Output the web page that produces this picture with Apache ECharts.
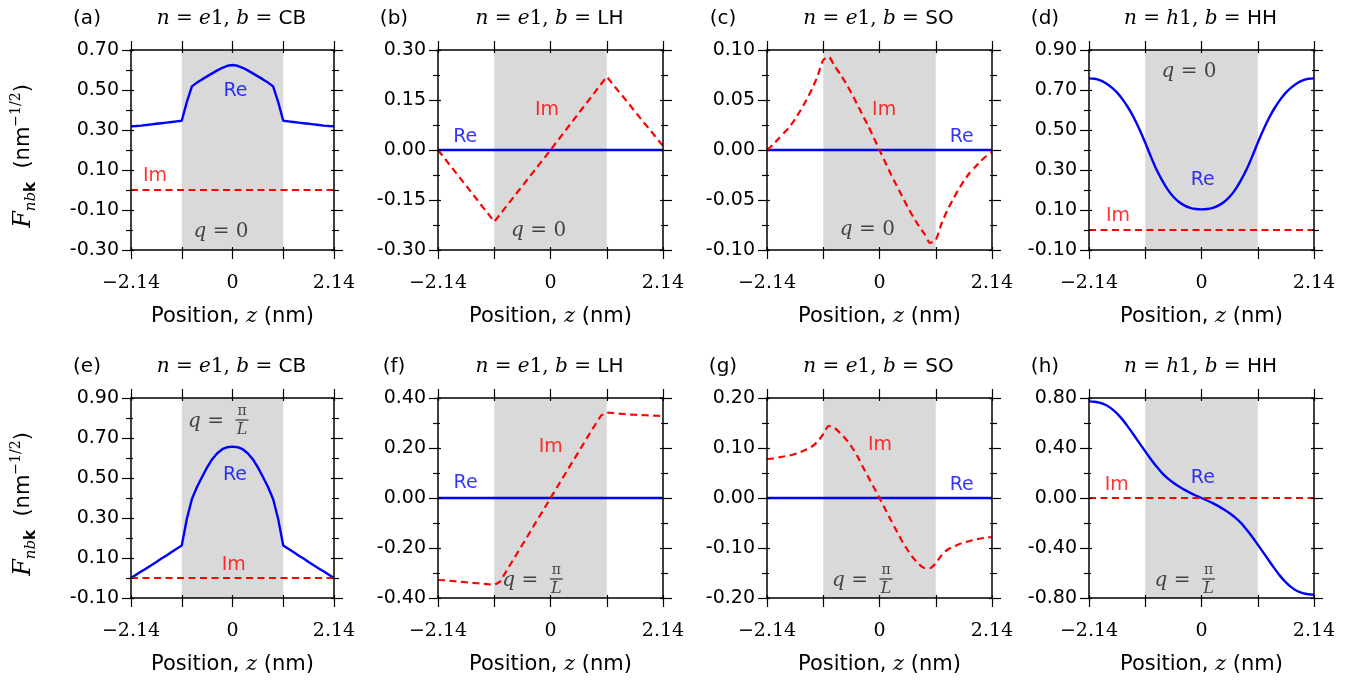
<!DOCTYPE html>
<html><head><meta charset="utf-8">
<script src="https://cdn.jsdelivr.net/npm/echarts@6/dist/echarts.min.js"></script>
<style>html,body{margin:0;padding:0;background:#fff}#c{width:1360px;height:681px}</style>
</head><body><div id="c"></div><script>
// ---------- data ----------
const z = [-2.14,-2.033,-1.926,-1.819,-1.712,-1.605,-1.498,-1.391,-1.284,-1.177,-1.07,-0.963,-0.856,-0.749,-0.642,-0.535,-0.428,-0.321,-0.214,-0.107,0,0.107,0.214,0.321,0.428,0.535,0.642,0.749,0.856,0.963,1.07,1.177,1.284,1.391,1.498,1.605,1.712,1.819,1.926,2.033,2.14];
const zEnds = [-2.14, 2.14];
const zeroVals = [0, 0];
const wellEdges = [-1.07, 1.07];
// (a) e1, CB, q=0 : Re
const reA = [0.319,0.320,0.322,0.325,0.328,0.331,0.334,0.337,0.340,0.343,0.346,0.440,0.518,0.537,0.553,0.568,0.583,0.598,0.611,0.621,0.625,0.621,0.611,0.598,0.583,0.568,0.553,0.537,0.518,0.440,0.346,0.343,0.340,0.337,0.334,0.331,0.328,0.325,0.322,0.320,0.319];
// (b) e1, LH, q=0 : Im
const imB = [0.000,-0.021,-0.043,-0.064,-0.086,-0.107,-0.129,-0.150,-0.172,-0.193,-0.215,-0.194,-0.172,-0.151,-0.129,-0.108,-0.086,-0.065,-0.043,-0.022,0.000,0.022,0.044,0.066,0.088,0.110,0.132,0.154,0.176,0.198,0.220,0.199,0.178,0.158,0.137,0.116,0.095,0.074,0.054,0.033,0.012];
// (c) e1, SO, q=0 : Im
const imC = [0.000,0.005,0.011,0.017,0.023,0.031,0.040,0.050,0.061,0.074,0.090,0.093,0.084,0.076,0.067,0.057,0.046,0.035,0.024,0.012,0.000,-0.012,-0.024,-0.035,-0.046,-0.057,-0.067,-0.076,-0.084,-0.093,-0.090,-0.074,-0.061,-0.050,-0.040,-0.031,-0.023,-0.017,-0.011,-0.006,-0.002];
// (d) h1, HH, q=0 : Re
const reD = [0.758,0.756,0.748,0.734,0.713,0.687,0.652,0.610,0.560,0.501,0.436,0.367,0.302,0.248,0.202,0.166,0.140,0.122,0.111,0.105,0.103,0.105,0.111,0.122,0.140,0.166,0.202,0.248,0.302,0.367,0.436,0.501,0.560,0.610,0.652,0.687,0.713,0.734,0.748,0.756,0.758];
// (e) e1, CB, q=pi/L : Re
const reE = [0.000,0.016,0.032,0.048,0.064,0.080,0.097,0.113,0.130,0.146,0.162,0.295,0.395,0.455,0.505,0.553,0.594,0.624,0.644,0.654,0.657,0.654,0.644,0.624,0.594,0.553,0.505,0.455,0.395,0.295,0.162,0.146,0.130,0.113,0.097,0.080,0.064,0.048,0.032,0.016,0.000];
// (f) e1, LH, q=pi/L : Im
const imF = [-0.328,-0.329,-0.331,-0.333,-0.335,-0.337,-0.339,-0.341,-0.343,-0.345,-0.348,-0.335,-0.298,-0.261,-0.224,-0.187,-0.150,-0.112,-0.075,-0.038,0.000,0.037,0.074,0.111,0.148,0.185,0.222,0.259,0.295,0.330,0.342,0.340,0.338,0.336,0.334,0.333,0.332,0.331,0.330,0.329,0.328];
// (g) e1, SO, q=pi/L : Im
const imG = [0.078,0.079,0.081,0.083,0.085,0.088,0.092,0.097,0.103,0.113,0.128,0.144,0.140,0.130,0.118,0.103,0.085,0.063,0.042,0.021,0.000,-0.022,-0.044,-0.065,-0.086,-0.104,-0.120,-0.132,-0.140,-0.140,-0.130,-0.115,-0.104,-0.098,-0.093,-0.089,-0.086,-0.083,-0.081,-0.079,-0.078];
// (h) h1, HH, q=pi/L : Re
const reH = [0.773,0.770,0.761,0.744,0.715,0.675,0.625,0.565,0.502,0.437,0.373,0.310,0.252,0.199,0.157,0.122,0.092,0.065,0.041,0.020,0.000,-0.020,-0.041,-0.065,-0.092,-0.122,-0.157,-0.199,-0.252,-0.310,-0.373,-0.437,-0.502,-0.565,-0.625,-0.675,-0.715,-0.744,-0.761,-0.770,-0.773];

const panelLetters = ['(a)','(b)','(c)','(d)','(e)','(f)','(g)','(h)'];
const stateLetter = ['e','e','e','h','e','e','e','h'];
const bandNames = ['CB','LH','SO','HH','CB','LH','SO','HH'];
const yMin = [-0.30,-0.30,-0.10,-0.10,-0.10,-0.40,-0.20,-0.80];
const yMax = [0.70,0.30,0.10,0.90,0.90,0.40,0.20,0.80];
const yStep = [0.20,0.15,0.05,0.20,0.20,0.20,0.10,0.40];
const xMin = -2.14, xMax = 2.14, xStep = 1.07;
const xTickValues = [-2.14, 0, 2.14];
const xTickText = ['\u22122.14', '0', '2.14'];
const panelRe = [reA, null, null, reD, reE, null, null, reH];
const panelIm = [null, imB, imC, null, null, imF, imG, null];

// annotation anchors in data coordinates
const notes = [
  [['Re',0.063,0.496],['Im',-1.633,0.068],['q0',-0.243,-0.211]],
  [['Re',-1.621,0.039],['Im',-0.067,0.120],['q0',-0.226,-0.241]],
  [['Im',0.089,0.040],['Re',1.563,0.013],['q0',-0.231,-0.080]],
  [['q0',-0.237,0.791],['Re',0.022,0.248],['Im',-1.588,0.068]],
  [['qpi',-0.264,0.785],['Re',0.053,0.515],['Im',0.027,0.065]],
  [['Re',-1.615,0.059],['Im',0.006,0.205],['qpi',-0.308,-0.328]],
  [['Im',0.010,0.106],['Re',1.564,0.026],['qpi',-0.295,-0.164]],
  [['Re',0.025,0.157],['Im',-1.613,0.104],['qpi',-0.285,-0.656]]
];

// ---------- layout & style ----------
const colLeft = [131, 438, 767, 1089];
const colWidth = [203, 225, 225, 225];
const rowTop = [50, 398];
const plotH = 200;
const smoothing = [0, 0, 0.2, 0.3, 0, 0, 0.3, 0.3];
const BLUE = '#0000ff', RED = '#ff0000', INK = '#1a1a1a';
const SERIF = 'DejaVu Serif', SANS = 'DejaVu Sans';

const pairs = (xs, ys) => xs.map((x, i) => [x, ys[i]]);
const xFmt = v => {
  for (let i = 0; i < xTickValues.length; i++) if (Math.abs(v - xTickValues[i]) < 1e-6) return xTickText[i];
  return '';
};
const yFmt = v => (Math.abs(v) < 1e-9 ? 0 : v).toFixed(2);

const noteRich = {
  re: {color: BLUE, fontFamily: SANS, fontSize: 19},
  im: {color: RED, fontFamily: SANS, fontSize: 19},
  qi: {color: INK, fontFamily: SERIF, fontStyle: 'italic', fontSize: 20},
  qr: {color: INK, fontFamily: SERIF, fontSize: 20},
  n: {color: INK, fontFamily: SERIF, fontSize: 14, lineHeight: 14, align: 'center'},
  bar: {width: 13, height: 1.3, backgroundColor: INK, lineHeight: 4, align: 'center', fontSize: 4},
  d: {color: INK, fontFamily: SERIF, fontStyle: 'italic', fontSize: 16, lineHeight: 16, align: 'center'}
};

const lineStyleAxis = {color: '#000', width: 1.5};
const tickStyle = {color: '#000', width: 1.2};

const option = {
  animation: false, backgroundColor: '#fff',
  textStyle: {fontFamily: SANS},
  grid: [], xAxis: [], yAxis: [], series: [], graphic: []
};

for (let p = 0; p < 8; p++) {
  const r = Math.floor(p / 4), c = p % 4;
  const left = colLeft[c], width = colWidth[c], top = rowTop[r];
  option.grid.push({left: left, top: top, width: width, height: plotH, containLabel: false});
  const xi = option.xAxis.length, yi = option.yAxis.length;
  const xb = {gridIndex: p, type: 'value', min: xMin, max: xMax, interval: xStep, splitLine: {show: false}, z: 10};
  option.xAxis.push(Object.assign({}, xb, {
    position: 'bottom',
    axisLine: {show: true, onZero: false, lineStyle: lineStyleAxis},
    axisTick: {show: true, length: 9, lineStyle: tickStyle},
    axisLabel: {show: true, formatter: xFmt, fontFamily: SERIF, fontSize: 19, color: '#000', margin: 24},
    name: '{s|Position, }{z|z}{s| (nm)}', nameLocation: 'middle', nameGap: 56,
    nameTextStyle: {rich: {s: {fontFamily: SANS, fontSize: 21, color: '#000'}, z: {fontFamily: SERIF, fontStyle: 'italic', fontSize: 21, color: '#000'}}}
  }));
  option.xAxis.push(Object.assign({}, xb, {
    position: 'top',
    axisLine: {show: true, onZero: false, lineStyle: lineStyleAxis},
    axisTick: {show: true, length: 9, lineStyle: tickStyle},
    axisLabel: {show: false}
  }));
  option.xAxis.push(Object.assign({}, xb, {position: 'bottom', axisLine: {show: false, onZero: false}, axisTick: {show: true, inside: true, length: 3, lineStyle: tickStyle}, axisLabel: {show: false}}));
  option.xAxis.push(Object.assign({}, xb, {position: 'top', axisLine: {show: false, onZero: false}, axisTick: {show: true, inside: true, length: 3, lineStyle: tickStyle}, axisLabel: {show: false}}));

  const yb = {gridIndex: p, type: 'value', min: yMin[p], max: yMax[p], interval: yStep[p], splitLine: {show: false}, minorSplitLine: {show: false}, z: 10};
  option.yAxis.push(Object.assign({}, yb, {
    position: 'left',
    axisLine: {show: true, onZero: false, lineStyle: lineStyleAxis},
    axisTick: {show: true, length: 9, lineStyle: tickStyle},
    minorTick: {show: true, splitNumber: 2, length: 5, lineStyle: tickStyle},
    axisLabel: {show: true, formatter: yFmt, fontFamily: SANS, fontSize: 19, color: '#000', margin: 12}
  }));
  option.yAxis.push(Object.assign({}, yb, {
    position: 'right',
    axisLine: {show: true, onZero: false, lineStyle: lineStyleAxis},
    axisTick: {show: true, length: 9, lineStyle: tickStyle},
    minorTick: {show: true, splitNumber: 2, length: 5, lineStyle: tickStyle},
    axisLabel: {show: false}
  }));
  option.yAxis.push(Object.assign({}, yb, {position: 'left', axisLine: {show: false, onZero: false}, axisTick: {show: true, inside: true, length: 3, lineStyle: tickStyle}, minorTick: {show: true, splitNumber: 2, length: 2, lineStyle: tickStyle}, axisLabel: {show: false}}));
  option.yAxis.push(Object.assign({}, yb, {position: 'right', axisLine: {show: false, onZero: false}, axisTick: {show: true, inside: true, length: 3, lineStyle: tickStyle}, minorTick: {show: true, splitNumber: 2, length: 2, lineStyle: tickStyle}, axisLabel: {show: false}}));

  // shaded well
  option.series.push({type: 'line', xAxisIndex: xi, yAxisIndex: yi, data: [], z: 1, silent: true,
    markArea: {silent: true, itemStyle: {color: '#d9d9d9'}, data: [[{xAxis: wellEdges[0]}, {xAxis: wellEdges[1]}]]}});
  // Re (solid blue)
  option.series.push({type: 'line', xAxisIndex: xi, yAxisIndex: yi, z: 3, silent: true, showSymbol: false,
    smooth: panelRe[p] ? smoothing[p] : false,
    data: panelRe[p] ? pairs(z, panelRe[p]) : pairs(zEnds, zeroVals),
    lineStyle: {color: BLUE, width: 2.4}});
  // Im (dashed red)
  option.series.push({type: 'line', xAxisIndex: xi, yAxisIndex: yi, z: 4, silent: true, showSymbol: false,
    smooth: panelIm[p] ? smoothing[p] : false,
    data: panelIm[p] ? pairs(z, panelIm[p]) : pairs(zEnds, zeroVals),
    lineStyle: {color: RED, width: 2.2, type: [7, 4.5]}});
  // annotations
  const items = [];
  notes[p].forEach(n => {
    const kind = n[0], v = [n[1], n[2]];
    if (kind === 'Re') items.push({value: v, label: {formatter: '{re|Re}'}});
    else if (kind === 'Im') items.push({value: v, label: {formatter: '{im|Im}'}});
    else if (kind === 'q0') items.push({value: v, label: {formatter: '{qi|q}{qr| = 0}'}});
    else {
      items.push({value: v, label: {formatter: '{qi|q}{qr| =}', offset: [-14, 1]}});
      items.push({value: v, label: {formatter: '{n|\u03c0}\n{bar| }\n{d|L}', offset: [22, 0]}});
    }
  });
  option.series.push({type: 'scatter', xAxisIndex: xi, yAxisIndex: yi, z: 5, silent: true,
    symbolSize: 1, itemStyle: {color: 'rgba(0,0,0,0)'},
    label: {show: true, position: 'inside', align: 'center', verticalAlign: 'middle', rich: noteRich},
    data: items});

  // titles
  option.graphic.push({type: 'text', x: left - 44, y: top - 31, silent: true,
    style: {text: panelLetters[p], fontFamily: SANS, fontSize: 20, fill: '#000', align: 'center', verticalAlign: 'middle', textAlign: 'center', textVerticalAlign: 'middle'}});
  option.graphic.push({type: 'text', x: left + width / 2 - 1, y: top - 31, silent: true,
    style: {text: '{i|n}{r| = }{i|' + stateLetter[p] + '}{r|1, }{i|b}{r| = }{s|' + bandNames[p] + '}',
      align: 'center', verticalAlign: 'middle', textAlign: 'center', textVerticalAlign: 'middle', fill: '#000',
      rich: {i: {fontFamily: SERIF, fontStyle: 'italic', fontSize: 20, fill: '#000', color: '#000'},
             r: {fontFamily: SERIF, fontSize: 20, fill: '#000', color: '#000'},
             s: {fontFamily: SANS, fontSize: 20, fill: '#000', color: '#000'}}}});
  if (c === 0) {
    option.graphic.push({type: 'text', x: 24, y: top + 106, rotation: Math.PI / 2, silent: true,
      style: {text: '{F|F}{s|nb}{k|k}{t|  (nm}{p|\u22121/2}{t|)}',
        align: 'center', verticalAlign: 'middle', textAlign: 'center', textVerticalAlign: 'middle', fill: '#000',
        rich: {F: {fontFamily: SERIF, fontStyle: 'italic', fontSize: 24, lineHeight: 30, fill: '#000', color: '#000'},
               s: {fontFamily: SERIF, fontStyle: 'italic', fontSize: 15, lineHeight: 16, verticalAlign: 'bottom', fill: '#000', color: '#000'},
               k: {fontFamily: SANS, fontWeight: 'bold', fontSize: 15, lineHeight: 16, verticalAlign: 'bottom', fill: '#000', color: '#000'},
               t: {fontFamily: SANS, fontSize: 21, lineHeight: 30, fill: '#000', color: '#000'},
               p: {fontFamily: SERIF, fontSize: 14, lineHeight: 14, verticalAlign: 'top', fill: '#000', color: '#000'}}}});
  }
}

const chart = echarts.init(document.getElementById('c'), null, {renderer: 'canvas'});
chart.setOption(option);
</script></body></html>
